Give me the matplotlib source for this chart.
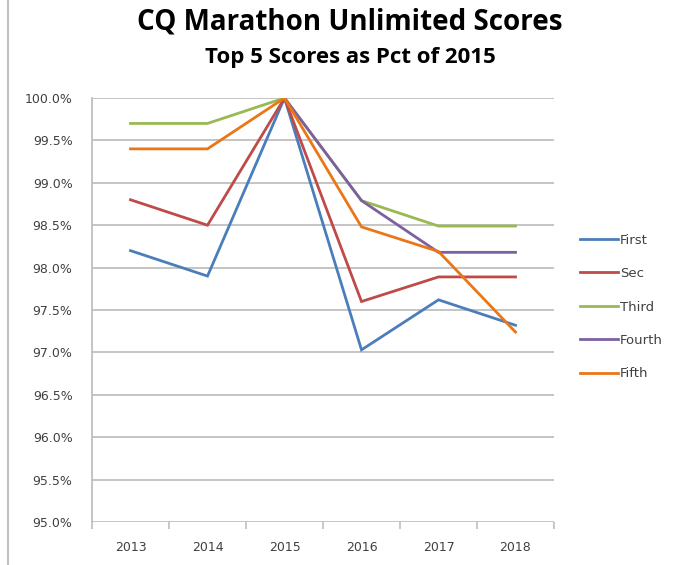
import matplotlib
matplotlib.use("Agg")
import matplotlib.pyplot as plt
import numpy as np
from matplotlib.ticker import FuncFormatter, FixedLocator

years = ["2013", "2014", "2015", "2016", "2017", "2018"]
series_names = ["First", "Sec", "Third", "Fourth", "Fifth"]
first = [98.2, 97.9, 100.0, 97.03, 97.62, 97.32]
sec = [98.8, 98.5, 100.0, 97.6, 97.89, 97.89]
third = [99.7, 99.7, 100.0, 98.79, 98.49, 98.49]
fourth = [np.nan, np.nan, 100.0, 98.79, 98.18, 98.18]
fifth = [99.4, 99.4, 100.0, 98.48, 98.19, 97.24]
colors = ["#4A7EBB", "#BE4B48", "#98B954", "#7D60A0", "#EB7616"]

fig = plt.figure(figsize=(6.93, 5.65), dpi=100)
fig.patch.set_facecolor("white")
ax = fig.add_axes([92/693, 1-522/565, 462/693, (522-98)/565])

x = np.arange(len(years))
for vals, name, c in zip([first, sec, third, fourth, fifth], series_names, colors):
    ax.plot(x, vals, color=c, lw=2.0, label=name, solid_joinstyle="miter")

ax.set_xlim(-0.5, len(years) - 0.5)
ax.set_ylim(95.0, 100.0)
ax.set_yticks(np.arange(95.0, 100.01, 0.5))
ax.yaxis.set_major_formatter(FuncFormatter(lambda v, p: f"{v:.1f}%"))
ax.set_xticks(x)
ax.set_xticklabels(years)
ax.xaxis.set_minor_locator(FixedLocator(np.arange(-0.5, len(years), 1.0)))
ax.tick_params(axis="x", which="major", length=0, pad=14, labelsize=9, labelcolor="#404040")
ax.tick_params(axis="x", which="minor", length=5, width=1.2, color="#BFBFBF")
ax.tick_params(axis="y", length=0, pad=14, labelsize=9, labelcolor="#404040")
ax.grid(axis="y", color="#BFBFBF", lw=1.3)
ax.set_axisbelow(True)
for s in ["top", "right", "bottom"]:
    ax.spines[s].set_visible(False)
ax.spines["left"].set_color("#BFBFBF")
ax.spines["left"].set_linewidth(1.3)

leg = ax.legend(loc="center left", bbox_to_anchor=(1.03, 0.507), frameon=False,
                fontsize=9.5, labelspacing=1.55, handlelength=2.9, handletextpad=0.15)
for t in leg.get_texts():
    t.set_color("#404040")

fig.text(0.504, 1-22/565, "CQ Marathon Unlimited Scores", ha="center", va="center",
         fontsize=20, fontweight="bold", family="Open Sans")
fig.text(0.505, 1-57/565, "Top 5 Scores as Pct of 2015", ha="center", va="center",
         fontsize=16, fontweight="bold", family="Open Sans")

fig.add_artist(plt.Line2D([8/693, 8/693], [0, 1], color="#BFBFBF", lw=1.5))

fig.savefig("out.png", dpi=100)
